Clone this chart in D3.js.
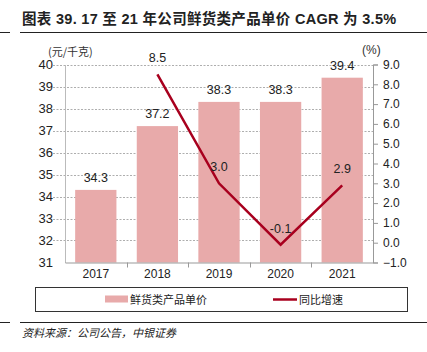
<!DOCTYPE html>
<html><head><meta charset="utf-8">
<script src="https://cdn.jsdelivr.net/npm/d3@7"></script>
<style>
body{margin:0;background:#fff;}
svg{display:block;}
.num{font-family:"Liberation Sans Narrow","Arial Narrow","Liberation Sans",Arial,sans-serif;}
.cjk{font-family:"Noto Sans CJK SC",sans-serif;}
.ttl{font-family:"Liberation Sans",Arial,"Noto Sans CJK SC",sans-serif;}
</style></head>
<body>
<svg id="c" width="427" height="352"></svg>
<script>
const categories = ["2017","2018","2019","2020","2021"];
const priceValues = [34.3, 37.2, 38.3, 38.3, 39.4];
const growthValues = [null, 8.5, 3.0, -0.1, 2.9];
const leftTicks = [31,32,33,34,35,36,37,38,39,40];
const rightTicks = [-1,0,1,2,3,4,5,6,7,8,9];
const seriesNames = ["鲜货类产品单价","同比增速"];

const svg = d3.select("#c");
const barColor = "#E8AAAA", lineColor = "#A8001E";
const L = 65, R = 373, T = 64.5, B = 262.5;

const x = d3.scaleBand().domain(categories).range([L, R]).paddingInner(0.33).paddingOuter(0.165);
const xb = d3.scaleBand().domain(categories).range([L, R]);
const yL = d3.scaleLinear().domain([31, 40]).range([B, T]);
const yR = d3.scaleLinear().domain([-1, 9]).range([B, T]);

// title
svg.append("text").attr("class","ttl").attr("x",22).attr("y",24)
  .attr("font-size",14.5).attr("font-weight","bold").attr("fill","#222").attr("letter-spacing",0.3)
  .text("图表 39. 17 至 21 年公司鲜货类产品单价 CAGR 为 3.5%");
svg.append("line").attr("x1",20).attr("x2",427).attr("y1",32.5).attr("y2",32.5).attr("stroke","#222").attr("stroke-width",1);
svg.append("line").attr("x1",0).attr("x2",10).attr("y1",32.5).attr("y2",32.5).attr("stroke","#222").attr("stroke-width",1);

// gridlines
svg.append("g").selectAll("line").data(leftTicks.filter(d=>d>31)).join("line")
  .attr("x1",L-12).attr("x2",R).attr("y1",d=>Math.round(yL(d))+0.5).attr("y2",d=>Math.round(yL(d))+0.5)
  .attr("stroke","#999").attr("stroke-dasharray","2,1.5").attr("stroke-width",0.8);

// bars
svg.append("g").selectAll("rect").data(categories).join("rect")
  .attr("x",(d)=>x(d)).attr("width",x.bandwidth())
  .attr("y",(d,i)=>yL(priceValues[i])).attr("height",(d,i)=>B-yL(priceValues[i]))
  .attr("fill",barColor);

// left axis
const gL = svg.append("g").attr("transform",`translate(${L},0)`)
  .call(d3.axisLeft(yL).tickValues(leftTicks).tickFormat(d3.format("d")).tickSize(0).tickPadding(12));
gL.select(".domain").attr("stroke","#bbb");
gL.selectAll("text").attr("class","num").attr("font-size",13).attr("fill","#222");

// right axis
const gR = svg.append("g").attr("transform",`translate(${R},0)`)
  .call(d3.axisRight(yR).tickValues(rightTicks).tickFormat(d3.format(".1f")).tickSize(5).tickPadding(5));
gR.select(".domain").attr("stroke","#999");
gR.selectAll(".tick line").attr("stroke","#999");
gR.selectAll("text").attr("class","num").attr("font-size",12).attr("fill","#222");

// bottom axis
const gB = svg.append("g").attr("transform",`translate(0,${B})`)
  .call(d3.axisBottom(xb).tickSize(0).tickPadding(7));
gB.select(".domain").attr("stroke","#999");
gB.selectAll("text").attr("class","num").attr("font-size",12).attr("fill","#222");
svg.append("g").selectAll("line").data(categories.slice(1)).join("line")
  .attr("x1",d=>Math.round(xb(d))+0.5).attr("x2",d=>Math.round(xb(d))+0.5)
  .attr("y1",B).attr("y2",B+5).attr("stroke","#999");

// bar labels
svg.append("g").selectAll("text").data(categories).join("text")
  .attr("class","num").attr("font-size",12.5).attr("fill","#222").attr("text-anchor","middle")
  .attr("x",d=>x(d)+x.bandwidth()/2).attr("y",(d,i)=>yL(priceValues[i])-8)
  .text((d,i)=>priceValues[i].toFixed(1));

// line
const pts = categories.map((c,i)=>({c,v:growthValues[i]})).filter(d=>d.v!==null);
svg.append("path").datum(pts)
  .attr("d",d3.line().x(d=>xb(d.c)+xb.bandwidth()/2).y(d=>yR(d.v)))
  .attr("fill","none").attr("stroke",lineColor).attr("stroke-width",2.5);
svg.append("g").selectAll("text").data(pts).join("text")
  .attr("class","num").attr("font-size",12.5).attr("fill","#222").attr("text-anchor","middle")
  .attr("x",d=>xb(d.c)+xb.bandwidth()/2).attr("y",d=>yR(d.v)-12)
  .text(d=>d.v.toFixed(1));

// unit labels
svg.append("text").attr("class","cjk").attr("x",48).attr("y",56).attr("font-size",11).attr("fill","#333").text("(元/千克)");
svg.append("text").attr("class","num").attr("x",362).attr("y",54).attr("font-size",12).attr("fill","#333").text("(%)");

// legend
svg.append("rect").attr("x",35.5).attr("y",287.5).attr("width",372).attr("height",24).attr("fill","none").attr("stroke","#333").attr("stroke-width",1);
svg.append("rect").attr("x",105).attr("y",295.5).attr("width",23).attr("height",7).attr("fill",barColor);
svg.append("text").attr("class","cjk").attr("x",130).attr("y",303.5).attr("font-size",11).attr("fill","#222").text(seriesNames[0]);
svg.append("line").attr("x1",273).attr("x2",297).attr("y1",299.5).attr("y2",299.5).attr("stroke",lineColor).attr("stroke-width",2.5);
svg.append("text").attr("class","cjk").attr("x",299).attr("y",303.5).attr("font-size",11).attr("fill","#222").text(seriesNames[1]);

// source
svg.append("line").attr("x1",20).attr("x2",427).attr("y1",322.5).attr("y2",322.5).attr("stroke","#222").attr("stroke-width",1);
svg.append("line").attr("x1",0).attr("x2",10).attr("y1",322.5).attr("y2",322.5).attr("stroke","#222").attr("stroke-width",1);
svg.append("text").attr("class","cjk").attr("x",22).attr("y",337).attr("font-size",11).attr("font-style","italic").attr("fill","#222")
  .text("资料来源：公司公告，中银证券");
</script>
</body></html>
